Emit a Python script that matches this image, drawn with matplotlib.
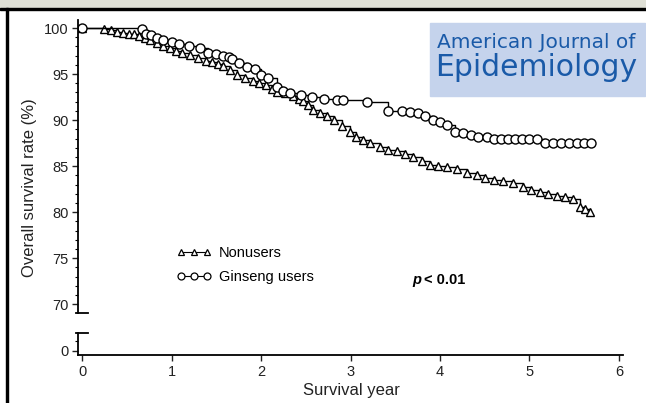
import matplotlib
matplotlib.use("Agg")
import matplotlib.pyplot as plt
from matplotlib.patches import Rectangle
from matplotlib.lines import Line2D

plt.rcParams['font.family'] = ['Liberation Sans', 'DejaVu Sans']

# Kaplan-Meier style curves (year, survival %)
non_years = [0.00, 0.25, 0.32, 0.39, 0.46, 0.52, 0.58, 0.64, 0.70, 0.76,
             0.84, 0.91, 0.98, 1.05, 1.12, 1.21, 1.30, 1.38, 1.45, 1.52,
             1.58, 1.65, 1.73, 1.82, 1.91, 1.98, 2.06, 2.12, 2.18, 2.27,
             2.36, 2.42, 2.47, 2.53, 2.58, 2.66, 2.74, 2.82, 2.90, 2.99,
             3.06, 3.14, 3.22, 3.33, 3.42, 3.52, 3.61, 3.70, 3.80, 3.89,
             3.98, 4.08, 4.19, 4.30, 4.41, 4.50, 4.60, 4.70, 4.82, 4.93,
             5.02, 5.12, 5.21, 5.31, 5.40, 5.49, 5.56, 5.62, 5.68]
non_surv = [100.0, 99.9, 99.8, 99.6, 99.5, 99.4, 99.3, 99.1, 98.9, 98.7,
            98.4, 98.0, 97.8, 97.5, 97.3, 97.1, 96.7, 96.4, 96.3, 96.1,
            95.9, 95.4, 94.9, 94.6, 94.3, 94.0, 93.8, 93.4, 93.1, 92.9,
            92.6, 92.3, 92.1, 91.6, 91.1, 90.8, 90.5, 90.0, 89.4, 88.7,
            88.2, 87.8, 87.5, 87.1, 86.8, 86.6, 86.3, 86.0, 85.6, 85.1,
            85.0, 84.9, 84.7, 84.3, 84.0, 83.7, 83.5, 83.4, 83.2, 82.7,
            82.4, 82.2, 82.0, 81.8, 81.6, 81.4, 80.6, 80.3, 80.0]

gin_years = [0.00, 0.67, 0.72, 0.77, 0.84, 0.91, 1.00, 1.08, 1.20, 1.32,
             1.41, 1.50, 1.58, 1.64, 1.68, 1.75, 1.84, 1.93, 2.00, 2.08,
             2.18, 2.25, 2.32, 2.45, 2.57, 2.70, 2.85, 2.92, 3.18, 3.42,
             3.57, 3.66, 3.75, 3.83, 3.92, 4.00, 4.08, 4.17, 4.26, 4.35,
             4.43, 4.52, 4.60, 4.68, 4.76, 4.84, 4.92, 5.00, 5.08, 5.17,
             5.26, 5.35, 5.44, 5.53, 5.61, 5.69]
gin_surv = [100.0, 99.9, 99.4, 99.2, 98.9, 98.7, 98.5, 98.3, 98.1, 97.8,
            97.3, 97.2, 97.0, 96.8, 96.6, 96.2, 95.8, 95.6, 94.9, 94.6,
            93.6, 93.2, 92.9, 92.7, 92.5, 92.3, 92.2, 92.2, 92.0, 91.0,
            91.0, 90.9, 90.8, 90.5, 90.0, 89.8, 89.5, 88.7, 88.6, 88.4,
            88.2, 88.2, 88.0, 88.0, 88.0, 88.0, 88.0, 88.0, 88.0, 87.5,
            87.5, 87.5, 87.5, 87.5, 87.5, 87.5]

x_ticks = [0, 1, 2, 3, 4, 5, 6]
upper_ticks = [70, 75, 80, 85, 90, 95, 100]

W, H = 646, 403
fig = plt.figure(figsize=(W / 100, H / 100), dpi=100)

# screenshot frame: grey strip on top, black border top and left
fig.patches.append(Rectangle((0, 1 - 8 / H), 1, 8 / H, transform=fig.transFigure,
                             color='#dfe0d6', zorder=0))
fig.patches.append(Rectangle((0, 1 - 10 / H), 1, 2 / H, transform=fig.transFigure,
                             color='black', zorder=1))
fig.patches.append(Rectangle((6 / W, 0), 2 / W, 1 - 8 / H, transform=fig.transFigure,
                             color='black', zorder=1))

left = 78 / W
width = 545 / W
ax = fig.add_axes([left, 1 - 312.7 / H, width, 292.7 / H])
ax2 = fig.add_axes([left, 1 - 355 / H, width, 21.7 / H])
for a in (ax, ax2):
    a.set_facecolor('none')
    a.set_xlim(-0.045, 6.045)
    for s in ['top', 'right']:
        a.spines[s].set_visible(False)
    a.spines['left'].set_linewidth(1.3)
    a.spines['bottom'].set_linewidth(1.3)

ax.set_ylim(69.09, 100.87)
ax2.set_ylim(-0.47, 1.89)
ax.spines['bottom'].set_visible(False)
ax.set_xticks([])
ax.set_yticks(upper_ticks)
ax.set_yticks(range(70, 101), minor=True)
ax2.set_yticks([0])
ax2.set_yticks([1], minor=True)
ax2.set_xticks(x_ticks)

for a in (ax, ax2):
    a.tick_params(axis='both', which='major', direction='out', length=4, width=1,
                  labelsize=10.5, pad=3, colors='#222222')
    a.tick_params(axis='y', which='minor', direction='out', length=2, width=0.8)

# axis-break caps
ax.plot([-0.004, 0.018], [0, 0], transform=ax.transAxes, color='black', lw=1.3,
        clip_on=False)
ax2.plot([-0.004, 0.018], [1, 1], transform=ax2.transAxes, color='black', lw=1.3,
         clip_on=False)

ax.plot(non_years, non_surv, drawstyle='steps-post', color='black', lw=1,
        marker='^', ms=6, mfc='white', mec='black', mew=1)
ax.plot(gin_years, gin_surv, drawstyle='steps-post', color='black', lw=1,
        marker='o', ms=6.5, mfc='white', mec='black', mew=1)

# legend with smaller markers, like the original
handles = [Line2D([], [], color='black', lw=0.8, marker='^', ms=5, mfc='white', mew=0.9),
           Line2D([], [], color='black', lw=0.8, marker='o', ms=5, mfc='white', mew=0.9)]
fig.legend(handles, ['Nonusers', 'Ginseng users'], loc='upper left',
           bbox_to_anchor=(169 / W, 1 - 239 / H), frameon=False, numpoints=3,
           handlelength=2.4, handletextpad=0.5, labelspacing=0.7, borderpad=0,
           fontsize=10.5)

ax.text(3.69, 72.6, 'p', fontsize=10.5, fontweight='bold', fontstyle='italic',
        va='center', ha='left')
ax.text(3.82, 72.6, '< 0.01', fontsize=10.5, fontweight='bold', va='center', ha='left')

fig.text(30 / W, 1 - 188 / H, 'Overall survival rate (%)', rotation=90,
         fontsize=12, ha='center', va='center', color='#222222')
fig.text(351 / W, 1 - 391 / H, 'Survival year', fontsize=12, ha='center',
         va='center', color='#222222')

# journal badge
fig.patches.append(Rectangle((430 / W, 1 - 96 / H), 215 / W, 73 / H,
                             transform=fig.transFigure, color='#c5d3ec', zorder=2))
fig.text(437 / W, 1 - 48 / H, 'American Journal of', family='DejaVu Sans',
         fontsize=14.5, color='#1a5aa8', va='baseline', ha='left', zorder=3)
fig.text(435 / W, 1 - 76.5 / H, 'Epidemiology', family='DejaVu Sans',
         fontsize=21.5, color='#1a5aa8', va='baseline', ha='left', zorder=3)

fig.savefig('out.png', dpi=100)
